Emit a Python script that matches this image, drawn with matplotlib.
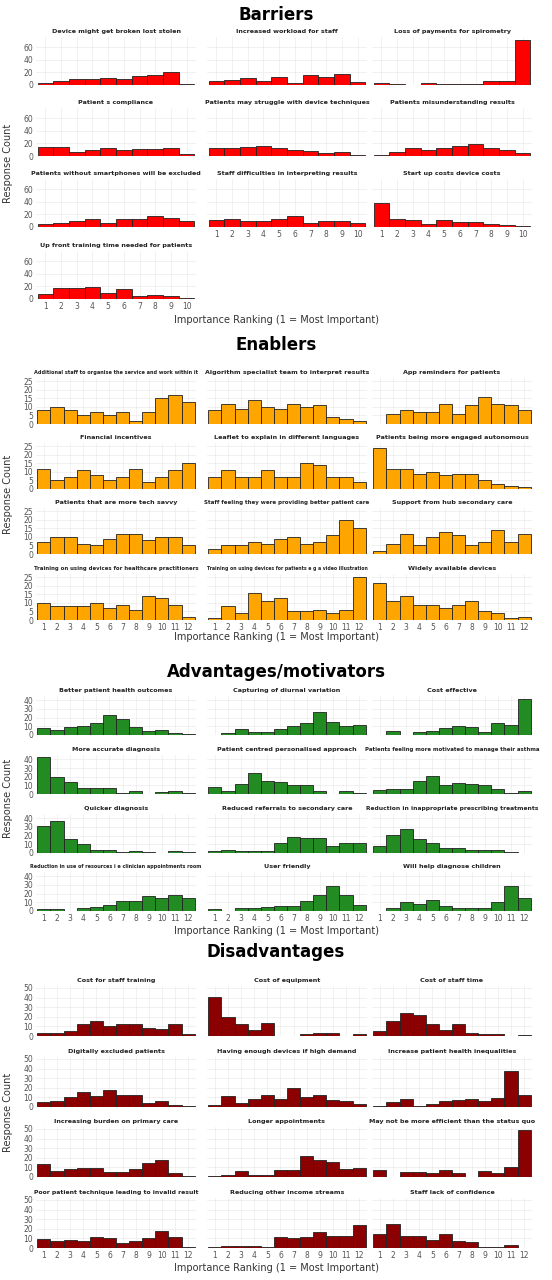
import matplotlib.pyplot as plt
import numpy as np

W, H = 552, 1280

barrier_names = ['Device might get broken lost stolen', 'Increased workload for staff',
                 'Loss of payments for spirometry', 'Patient s compliance',
                 'Patients may struggle with device techniques', 'Patients misunderstanding results',
                 'Patients without smartphones will be excluded', 'Staff difficulties in interpreting results',
                 'Start up costs device costs', 'Up front training time needed for patients']
barrier_counts = [
    [3, 6, 9, 9, 11, 9, 15, 16, 20, 1],
    [7, 8, 11, 6, 13, 3, 16, 13, 18, 4],
    [3, 2, 0, 3, 1, 1, 2, 6, 6, 71],
    [14, 15, 6, 9, 12, 9, 11, 11, 13, 3],
    [12, 13, 14, 16, 13, 10, 8, 4, 7, 1],
    [1, 6, 13, 10, 13, 16, 19, 12, 9, 5],
    [4, 7, 9, 13, 6, 12, 12, 18, 14, 9],
    [11, 13, 10, 9, 13, 17, 6, 9, 10, 6],
    [38, 13, 11, 5, 11, 8, 8, 5, 3, 1],
    [8, 17, 17, 19, 10, 16, 5, 7, 4, 1],
]

enabler_names = ['Additional staff to organise the service and work within it',
                 'Algorithm specialist team to interpret results', 'App reminders for patients',
                 'Financial incentives', 'Leaflet to explain in different languages',
                 'Patients being more engaged autonomous', 'Patients that are more tech savvy',
                 'Staff feeling they were providing better patient care', 'Support from hub secondary care',
                 'Training on using devices for healthcare practitioners',
                 'Training on using devices for patients e g a video illustration',
                 'Widely available devices']
enabler_counts = [
    [8, 10, 8, 5, 7, 5, 7, 2, 7, 15, 17, 13],
    [8, 12, 9, 14, 10, 9, 12, 10, 11, 4, 3, 2],
    [0, 6, 8, 7, 7, 12, 6, 11, 16, 12, 11, 8],
    [12, 5, 7, 11, 8, 5, 7, 12, 4, 7, 11, 15],
    [7, 11, 7, 7, 11, 7, 7, 15, 14, 7, 7, 4],
    [24, 12, 12, 9, 10, 8, 9, 9, 5, 3, 2, 1],
    [7, 10, 10, 6, 5, 9, 12, 12, 8, 10, 10, 5],
    [3, 5, 5, 7, 6, 9, 10, 6, 7, 11, 20, 15],
    [2, 6, 12, 5, 10, 13, 11, 5, 7, 14, 7, 12],
    [10, 8, 8, 8, 10, 7, 9, 6, 14, 13, 9, 2],
    [1, 8, 4, 16, 11, 13, 5, 5, 6, 4, 6, 25],
    [22, 11, 14, 9, 9, 7, 9, 11, 5, 4, 1, 2],
]

advantage_names = ['Better patient health outcomes', 'Capturing of diurnal variation', 'Cost effective',
                   'More accurate diagnosis', 'Patient centred personalised approach',
                   'Patients feeling more motivated to manage their asthma', 'Quicker diagnosis',
                   'Reduced referrals to secondary care', 'Reduction in inappropriate prescribing treatments',
                   'Reduction in use of resources i e clinician appointments room',
                   'User friendly', 'Will help diagnose children']
advantage_counts = [
    [8, 6, 9, 10, 14, 23, 18, 9, 5, 6, 2, 1],
    [0, 2, 7, 4, 4, 7, 10, 14, 26, 15, 10, 11],
    [0, 5, 0, 4, 5, 8, 10, 9, 3, 14, 11, 42],
    [43, 20, 14, 7, 7, 7, 1, 3, 0, 2, 3, 1],
    [8, 3, 12, 24, 15, 14, 10, 10, 3, 0, 3, 1],
    [5, 6, 6, 15, 21, 10, 13, 12, 10, 6, 1, 4],
    [31, 37, 16, 10, 4, 4, 1, 2, 1, 0, 2, 1],
    [2, 4, 2, 2, 2, 11, 18, 17, 17, 8, 11, 12],
    [8, 21, 28, 16, 12, 6, 6, 4, 3, 3, 1, 0],
    [2, 2, 0, 4, 5, 7, 12, 12, 17, 15, 18, 15],
    [2, 0, 4, 4, 5, 6, 6, 11, 18, 29, 18, 7],
    [0, 4, 10, 8, 13, 6, 4, 4, 4, 10, 29, 15],
]

disadvantage_names = ['Cost for staff training', 'Cost of equipment', 'Cost of staff time',
                      'Digitally excluded patients', 'Having enough devices if high demand',
                      'Increase patient health inequalities', 'Increasing burden on primary care',
                      'Longer appointments', 'May not be more efficient than the status quo',
                      'Poor patient technique leading to invalid result', 'Reducing other income streams',
                      'Staff lack of confidence']
disadvantage_counts = [
    [3, 3, 5, 13, 16, 10, 13, 13, 8, 7, 12, 2],
    [41, 20, 12, 6, 14, 0, 0, 2, 3, 3, 0, 2],
    [5, 16, 24, 22, 12, 6, 12, 3, 2, 2, 0, 1],
    [5, 6, 10, 16, 11, 18, 12, 13, 4, 6, 2, 1],
    [2, 11, 4, 8, 12, 8, 20, 10, 13, 7, 6, 3],
    [1, 5, 8, 1, 3, 6, 7, 8, 6, 9, 37, 13],
    [14, 6, 8, 9, 9, 5, 5, 8, 15, 18, 4, 1],
    [1, 2, 6, 2, 2, 7, 7, 22, 18, 16, 8, 9],
    [7, 0, 5, 5, 4, 7, 4, 0, 6, 4, 10, 49],
    [9, 7, 8, 7, 11, 10, 5, 7, 10, 18, 11, 1],
    [1, 2, 2, 2, 1, 11, 10, 11, 17, 12, 12, 24],
    [15, 25, 12, 12, 8, 15, 7, 6, 1, 1, 3, 0],
]

# (title, names, counts, colour, yticks, section title y, panel title ys, panel height, xlabel y, ymax)
SECTIONS = [
    ('Barriers', barrier_names, barrier_counts, '#ff0000', [0, 20, 40, 60], 15,
     [32, 103, 174, 246], 48, 320, 76),
    ('Enablers', enabler_names, enabler_counts, '#ffa500', [0, 5, 10, 15, 20, 25], 345,
     [373, 438, 503, 569], 46, 637, 27),
    ('Advantages/motivators', advantage_names, advantage_counts, '#228b22', [0, 10, 20, 30, 40], 672,
     [691, 750, 809, 867], 39, 931, 45),
    ('Disadvantages', disadvantage_names, disadvantage_counts, '#8b0000', [0, 10, 20, 30, 40, 50], 952,
     [981, 1052, 1122, 1193], 50, 1268, 52),
]

COL_LEFT = [36, 207, 372]
COL_W = 160


def main():
    fig = plt.figure(figsize=(W / 100, H / 100), dpi=100)
    fig.patch.set_facecolor('white')

    for title, names, counts, colour, yticks, ty, row_ys, ph, xly, ymax in SECTIONS:
        fig.text(0.5, 1 - ty / H, title, ha='center', va='center', fontsize=12, fontweight='bold')
        n = len(names)
        nrank = len(counts[0])
        ranks = np.arange(1, nrank + 1)
        for i, (name, vals) in enumerate(zip(names, counts)):
            r, c = divmod(i, 3)
            top = row_ys[r] + 5
            ax = fig.add_axes([COL_LEFT[c] / W, 1 - (top + ph) / H, COL_W / W, ph / H])
            ax.bar(ranks, vals, width=1, color=colour, edgecolor='#222222', linewidth=0.6, zorder=3)
            ax.set_xlim(0.4, nrank + 0.6)
            ax.set_ylim(0, ymax)
            ax.set_yticks(yticks)
            ax.set_xticks(ranks)
            ax.grid(True, color='#ebebeb', linewidth=0.5, zorder=0)
            for s in ax.spines.values():
                s.set_visible(False)
            ax.tick_params(length=0, labelsize=5.5, labelcolor='#555555', pad=2)
            if c != 0:
                ax.set_yticklabels([])
            if i + 3 < n:
                ax.set_xticklabels([])
            # long facet labels get a smaller font so they stay inside their column
            fs = 4.6 if len(name) <= 46 else 4.6 * 46 / len(name)
            ax.set_title(name, fontsize=fs, fontweight='bold', pad=3, color='#222222')
        mid = (row_ys[0] + row_ys[-1] + ph) / 2
        fig.text(8 / W, 1 - mid / H, 'Response Count', rotation=90, ha='center', va='center',
                 fontsize=7, color='#333333')
        fig.text(0.5, 1 - xly / H, 'Importance Ranking (1 = Most Important)', ha='center', va='center',
                 fontsize=7, color='#333333')

    fig.savefig('out.png', dpi=100)


if __name__ == "__main__":
    main()
